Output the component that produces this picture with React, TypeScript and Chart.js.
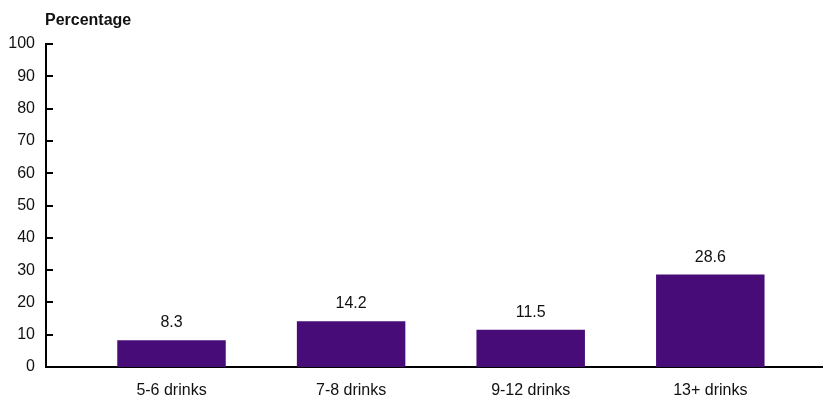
import { useEffect, useRef } from "react";
import { Chart, registerables } from "chart.js";

Chart.register(...registerables);

const categories = ["5-6 drinks", "7-8 drinks", "9-12 drinks", "13+ drinks"];
const values = [8.3, 14.2, 11.5, 28.6];
const yTicks = [0, 10, 20, 30, 40, 50, 60, 70, 80, 90, 100];
const yTitle = "Percentage";

const FONT = "'Liberation Sans', Arial, sans-serif";
const TEXT = "#111111";
const BAR = "#480C79";

const overlay = {
  id: "overlay",
  afterDraw(chart: any) {
    const ctx = chart.ctx;
    const area = chart.chartArea;
    const y = chart.scales.y;
    ctx.save();
    ctx.strokeStyle = "#000";
    ctx.lineWidth = 2;
    yTicks.forEach((t) => {
      const py = Math.round(y.getPixelForValue(t));
      ctx.beginPath();
      ctx.moveTo(area.left, py);
      ctx.lineTo(area.left + 7, py);
      ctx.stroke();
    });
    ctx.fillStyle = TEXT;
    ctx.font = `bold 16px ${FONT}`;
    ctx.textAlign = "left";
    ctx.textBaseline = "alphabetic";
    ctx.fillText(yTitle, area.left - 1, 25);
    ctx.font = `16px ${FONT}`;
    ctx.textAlign = "center";
    const meta = chart.getDatasetMeta(0);
    meta.data.forEach((bar: any, i: number) => {
      ctx.fillText(values[i].toFixed(1), bar.x, bar.y - 13);
    });
    ctx.restore();
  },
};

export default function App() {
  const ref = useRef<HTMLCanvasElement | null>(null);

  useEffect(() => {
    document.body.style.margin = "0";
    const canvas = ref.current;
    if (!canvas) return;
    const chart = new Chart(canvas, {
      type: "bar",
      data: {
        datasets: [
          {
            data: values.map((v, i) => ({ x: i, y: v })),
            backgroundColor: BAR,
            borderWidth: 0,
            barPercentage: 0.604,
            categoryPercentage: 1,
          },
        ],
      },
      options: {
        animation: false,
        responsive: true,
        maintainAspectRatio: false,
        layout: { padding: { top: 44, left: 0, right: 0, bottom: 0 } },
        plugins: { legend: { display: false }, tooltip: { enabled: false } },
        scales: {
          x: {
            type: "linear",
            offset: false,
            min: -0.6988,
            max: 3.6275,
            grid: { display: false, drawTicks: false },
            border: { display: true, color: "#000", width: 2 },
            afterBuildTicks: (axis: any) => {
              axis.ticks = categories.map((_, i) => ({ value: i }));
            },
            afterFit: (s: any) => {
              s.height = 33;
            },
            ticks: {
              callback: (v: any) => categories[v] ?? "",
              font: { family: FONT, size: 16 },
              color: TEXT,
              padding: 14,
              autoSkip: false,
              maxRotation: 0,
            },
          },
          y: {
            min: 0,
            max: 100,
            grid: { display: false, drawTicks: false },
            border: { display: true, color: "#000", width: 2 },
            afterBuildTicks: (axis: any) => {
              axis.ticks = yTicks.map((v) => ({ value: v }));
            },
            afterFit: (s: any) => {
              s.width = 46;
            },
            ticks: {
              font: { family: FONT, size: 16 },
              color: TEXT,
              padding: 11,
            },
          },
        },
      },
      plugins: [overlay],
    } as any);
    return () => chart.destroy();
  }, []);

  return (
    <div style={{ position: "relative", width: 823, height: 400 }}>
      <canvas ref={ref} />
    </div>
  );
}
